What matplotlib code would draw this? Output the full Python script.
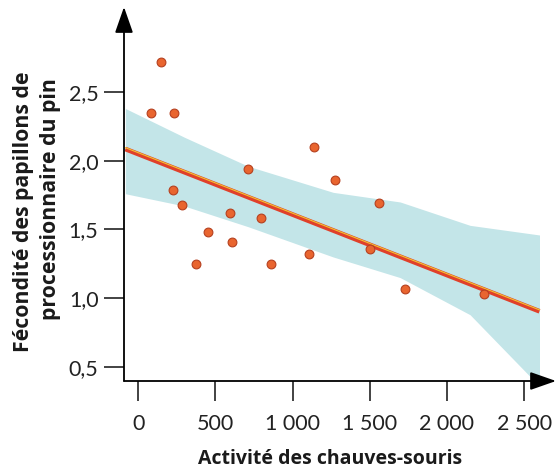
import numpy as np
import matplotlib
matplotlib.use("Agg")
import matplotlib.pyplot as plt
from matplotlib.transforms import offset_copy

plt.rcParams['font.family'] = ['Lato', 'DejaVu Sans']

# points
bats = [82, 147, 233, 225, 285, 451, 374, 596, 609, 712, 795, 859,
        1138, 1109, 1276, 1563, 1503, 1727, 2243]
fecundity = [2.35, 2.72, 2.35, 1.79, 1.68, 1.48, 1.25, 1.62, 1.41, 1.94, 1.58, 1.25,
             2.10, 1.32, 1.86, 1.69, 1.36, 1.07, 1.03]

# regression line ends
line_x = [-84, 2600]
line_y = [2.085, 0.905]

# confidence band
band_x = [-84, 300, 712, 1263, 1697, 2150, 2600]
band_hi = [2.38, 2.17, 1.96, 1.77, 1.70, 1.53, 1.46]
band_lo = [1.76, 1.67, 1.52, 1.30, 1.15, 0.88, 0.36]

xticks = [0, 500, 1000, 1500, 2000, 2500]
xticklabels = ['0', '500', '1 000', '1 500', '2 000', '2 500']
yticks = [0.5, 1.0, 1.5, 2.0, 2.5]
yticklabels = ['0,5', '1,0', '1,5', '2,0', '2,5']

fig = plt.figure(figsize=(5.58, 4.72), dpi=100)
ax = fig.add_axes([124/558, 1 - 381/472, 432/558, 374/472])

ax.fill_between(band_x, band_lo, band_hi, color='#c3e5e8', lw=0, zorder=1)
ax.plot(line_x, line_y, color='#e0402a', lw=3.4, solid_capstyle='butt', zorder=2)
ax.plot(line_x, line_y, color='#f2c530', lw=0.8, zorder=3,
        transform=offset_copy(ax.transData, fig=fig, x=0, y=1.0, units='points'))
ax.scatter(bats, fecundity, s=40, c='#e9652f', edgecolors='#b5401f', linewidths=0.8, zorder=4)

ax.set_xlim(-93, 2707)
ax.set_ylim(0.398, 3.118)

for s in ax.spines.values():
    s.set_visible(False)

arrow = dict(arrowstyle='-|>,head_length=0.8,head_width=0.28', lw=1.3, color='black',
             shrinkA=0, shrinkB=0, mutation_scale=20)
ax.annotate('', xy=(1, 0), xytext=(0, 0), xycoords='axes fraction', arrowprops=arrow)
ax.annotate('', xy=(0, 1), xytext=(0, 0), xycoords='axes fraction', arrowprops=arrow)

ax.set_xticks(xticks)
ax.set_xticklabels(xticklabels)
ax.set_yticks(yticks)
ax.set_yticklabels(yticklabels)
ax.tick_params(axis='x', length=14.4, width=1.2, pad=9, labelsize=15.5, color='#222222')
ax.tick_params(axis='y', length=14.4, width=1.2, pad=4, labelsize=15.5, color='#222222')
for lab in ax.get_xticklabels() + ax.get_yticklabels():
    lab.set_color('#222222')

label_font = ['Open Sans', 'DejaVu Sans']
fig.text(330/558, 1 - 459/472, 'Activité des chauves-souris', ha='center', va='center',
         fontsize=14, fontweight='bold', color='#1a1a1a', family=label_font)
fig.text(24/558, 1 - 72/472, 'Fécondité des papillons de', rotation=90, ha='center', va='top',
         fontsize=15.3, fontweight='bold', color='#1a1a1a', family=label_font)
fig.text(51/558, 1 - 78/472, 'processionnaire du pin', rotation=90, ha='center', va='top',
         fontsize=15.3, fontweight='bold', color='#1a1a1a', family=label_font)

fig.savefig('out.png', dpi=100)
